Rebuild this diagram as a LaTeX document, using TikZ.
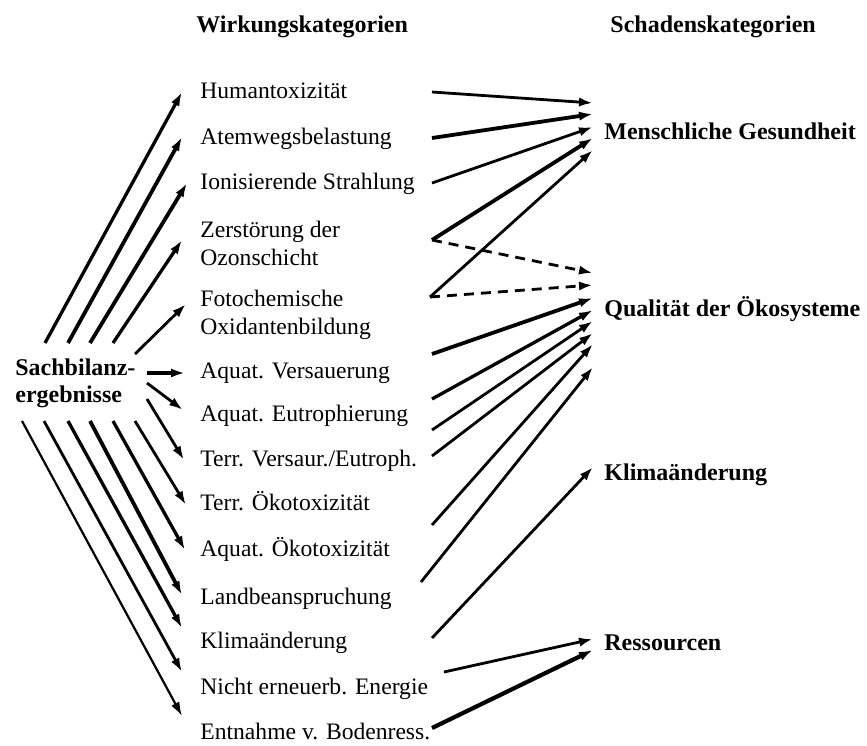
\documentclass[tikz,border=0pt]{standalone}
\usepackage{fontspec}
\setmainfont{Liberation Serif}
\usetikzlibrary{arrows.meta}
\tikzset{
  lbl/.style={anchor=base west,inner sep=0pt,font=\fontsize{11.8}{14}\selectfont},
  lbltwo/.style={anchor=north west,inner sep=0pt,align=left,font=\fontsize{11.8}{14}\selectfont},
  blbl/.style={anchor=base west,inner sep=0pt,font=\fontsize{12}{13.5}\selectfont\bfseries},
  blbltwo/.style={anchor=north west,inner sep=0pt,align=left,font=\fontsize{12}{13.5}\selectfont\bfseries},
  arr/.style={-{Latex[length=7pt,width=4.6pt]},line width=1.4pt},
  thk/.style={arr,line width=1.9pt},
  mid/.style={arr,line width=1.65pt},
  thn/.style={arr,line width=1.1pt},
  dsh/.style={arr,dash pattern=on 5pt off 3.5pt}
}
\begin{document}
\begin{tikzpicture}[x=0.5pt,y=-0.5pt]
\useasboundingbox (0,0) rectangle (867,745);
% headers
\node[blbl] (hw) at (196,32) {Wirkungskategorien};
\node[blbl] (hs) at (610,32) {Schadenskategorien};
% source
\node[blbltwo] (src) at (15,358) {Sachbilanz-\\ergebnisse};
% impact categories
\node[lbl] (k1) at (200,98) {Humantoxizität};
\node[lbl] (k2) at (200,144) {Atemwegsbelastung};
\node[lbl] (k3) at (200,189) {Ionisierende Strahlung};
\node[lbltwo] (k4) at (200,221) {Zerstörung der\\Ozonschicht};
\node[lbltwo] (k5) at (200,290) {Fotochemische\\Oxidantenbildung};
\node[lbl] (k6) at (200,378) {Aquat. Versauerung};
\node[lbl] (k7) at (200,421) {Aquat. Eutrophierung};
\node[lbl] (k8) at (200,466) {Terr. Versaur./Eutroph.};
\node[lbl] (k9) at (200,510) {Terr. Ökotoxizität};
\node[lbl] (k10) at (200,556) {Aquat. Ökotoxizität};
\node[lbl] (k11) at (200,604) {Landbeanspruchung};
\node[lbl] (k12) at (200,648) {Klimaänderung};
\node[lbl] (k13) at (200,694) {Nicht erneuerb. Energie};
\node[lbl] (k14) at (200,739) {Entnahme v. Bodenress.};
% damage categories
\node[blbl] (d1) at (604,139) {Menschliche Gesundheit};
\node[blbl] (d2) at (604,316) {Qualität der Ökosysteme};
\node[blbl] (d3) at (604,480) {Klimaänderung};
\node[blbl] (d4) at (604,650) {Ressourcen};
% left arrow coordinates
\coordinate (s1) at (45,343);  \coordinate (t1) at (182,92);
\coordinate (s2) at (68,343);  \coordinate (t2) at (182,137);
\coordinate (s3) at (90,343);  \coordinate (t3) at (187,183);
\coordinate (s4) at (113,343); \coordinate (t4) at (182,240);
\coordinate (s5) at (135,354); \coordinate (t5) at (186,304);
\coordinate (s6) at (147,373); \coordinate (t6) at (185,373);
\coordinate (s7) at (147,383); \coordinate (t7) at (183,410);
\coordinate (s8) at (147,399); \coordinate (t8) at (184,460);
\coordinate (s9) at (135,421); \coordinate (t9) at (186,505);
\coordinate (s10) at (113,421); \coordinate (t10) at (185,550);
\coordinate (s11) at (90,421); \coordinate (t11) at (182,595);
\coordinate (s12) at (68,421); \coordinate (t12) at (182,628);
\coordinate (s13) at (44,421); \coordinate (t13) at (182,672);
\coordinate (s14) at (22,421); \coordinate (t14) at (182,716);
\draw[mid] (s1) -- (t1);
\draw[thk] (s2) -- (t2);
\draw[thk] (s3) -- (t3);
\draw[mid] (s4) -- (t4);
\draw[arr] (s5) -- (t5);
\draw[thk] (s6) -- (t6);
\draw[arr] (s7) -- (t7);
\draw[arr] (s8) -- (t8);
\draw[arr] (s9) -- (t9);
\draw[mid] (s10) -- (t10);
\draw[thk] (s11) -- (t11);
\draw[mid] (s12) -- (t12);
\draw[arr] (s13) -- (t13);
\draw[thn] (s14) -- (t14);
% right arrow coordinates
\coordinate (u1) at (432,92);
\coordinate (u2) at (432,138);
\coordinate (u3) at (432,183);
\coordinate (u4) at (432,240);
\coordinate (u5) at (430,297);
\coordinate (u6) at (432,354);
\coordinate (u7) at (432,399);
\coordinate (u8) at (432,430);
\coordinate (u9) at (432,456);
\coordinate (u10) at (432,525);
\coordinate (u11) at (421,582);
\coordinate (u12) at (432,638);
\coordinate (u13) at (444,672);
\coordinate (u14) at (432,728);
\coordinate (m1) at (593,103);
\coordinate (m2) at (593,114);
\coordinate (m3) at (593,127);
\coordinate (m4) at (593,138);
\coordinate (m5) at (593,150);
\coordinate (q0) at (593,273);
\coordinate (q00) at (593,285);
\coordinate (q1) at (593,298);
\coordinate (q2) at (593,310);
\coordinate (q3) at (593,321);
\coordinate (q4) at (593,333);
\coordinate (q5) at (593,344);
\coordinate (q6) at (593,367);
\coordinate (c1) at (593,467);
\coordinate (r1) at (593,639);
\coordinate (r2) at (593,650);
\draw[arr] (u1) -- (m1);
\draw[thk] (u2) -- (m2);
\draw[arr] (u3) -- (m3);
\draw[thk] (u4) -- (m4);
\draw[arr] (u5) -- (m5);
\draw[dsh] (u4) -- (q0);
\draw[dsh] (u5) -- (q00);
\draw[thk] (u6) -- (q1);
\draw[mid] (u7) -- (q2);
\draw[arr] (u8) -- (q3);
\draw[arr] (u9) -- (q4);
\draw[arr] (u10) -- (q5);
\draw[arr] (u11) -- (q6);
\draw[arr] (u12) -- (c1);
\draw[arr] (u13) -- (r1);
\draw[thk,line width=2.1pt] (u14) -- (r2);
\end{tikzpicture}
\end{document}
